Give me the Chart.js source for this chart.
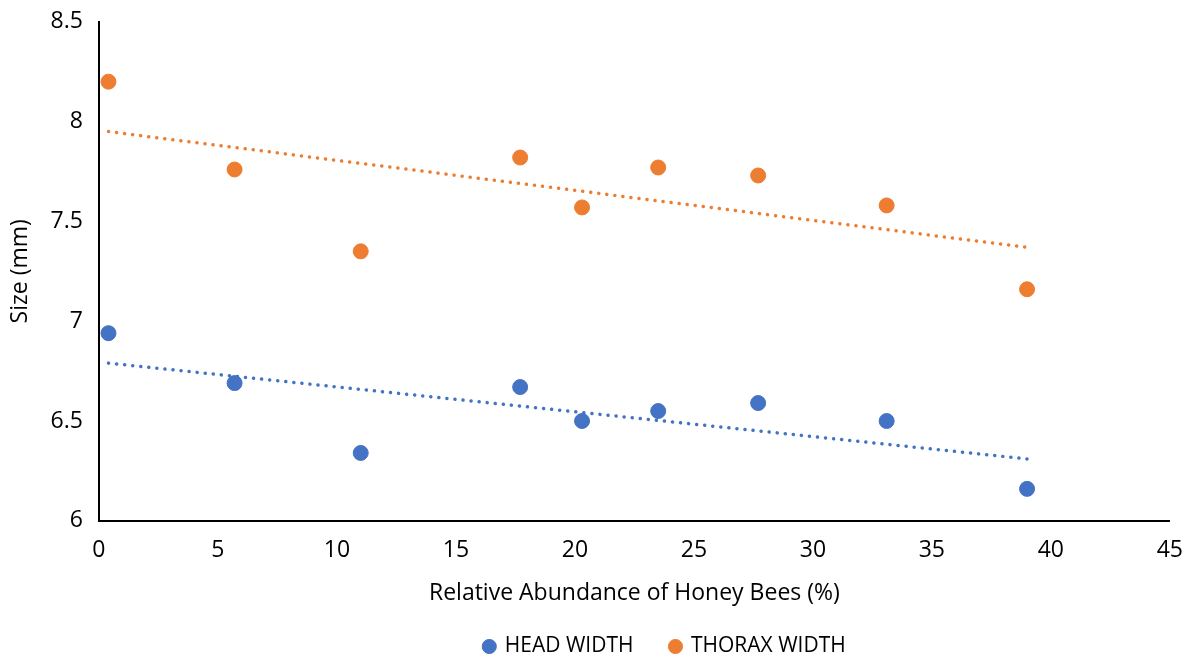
<!DOCTYPE html>
<html>
<head>
<meta charset="utf-8">
<script src="https://cdn.jsdelivr.net/npm/chart.js@4/dist/chart.umd.min.js"></script>
<style>
  html, body { margin: 0; padding: 0; background: #fff; }
  #wrap { width: 1191px; height: 660px; }
</style>
</head>
<body>
<div id="wrap"><canvas id="c" width="1191" height="660"></canvas></div>
<script>
// Relative abundance of honey bees (%)
const abundance = [0.4, 5.7, 11.0, 17.7, 20.3, 23.5, 27.7, 33.1, 39.0];
const headWidth = [6.94, 6.69, 6.34, 6.67, 6.50, 6.55, 6.59, 6.50, 6.16];
const thoraxWidth = [8.20, 7.76, 7.35, 7.82, 7.57, 7.77, 7.73, 7.58, 7.16];
// Trendline endpoints
const trendX = [0.4, 39.0];
const headTrend = [6.79, 6.31];
const thoraxTrend = [7.95, 7.37];
const xTicks = [0, 5, 10, 15, 20, 25, 30, 35, 40, 45];
const yTicks = [6, 6.5, 7, 7.5, 8, 8.5];

const BLUE = '#4472C4';
const ORANGE = '#ED7D31';
const toPts = (xs, ys) => xs.map((x, i) => ({ x: x, y: ys[i] }));

const FONT = "'Open Sans', 'DejaVu Sans', sans-serif";

// shifts the legend row (the reference's legend sits right of centre and low)
const legendShift = {
  id: 'legendShift',
  afterLayout(chart) {
    const lg = chart.legend;
    if (lg) { lg.left += 66; lg.right += 66; lg.top += 7; lg.bottom += 7; }
  }
};

new Chart(document.getElementById('c'), {
  type: 'scatter',
  data: {
    datasets: [
      { label: 'HEAD WIDTH', data: toPts(abundance, headWidth), backgroundColor: BLUE, borderColor: BLUE, pointRadius: 7.5, pointHoverRadius: 7.5, order: 1 },
      { label: 'THORAX WIDTH', data: toPts(abundance, thoraxWidth), backgroundColor: ORANGE, borderColor: ORANGE, pointRadius: 7.5, pointHoverRadius: 7.5, order: 1 },
      { label: 'trendHead', data: toPts(trendX, headTrend), showLine: true, pointRadius: 0, borderColor: BLUE, borderWidth: 3.5, borderDash: [0.1, 8], borderCapStyle: 'round', fill: false, order: 2 },
      { label: 'trendThorax', data: toPts(trendX, thoraxTrend), showLine: true, pointRadius: 0, borderColor: ORANGE, borderWidth: 3.5, borderDash: [0.1, 8], borderCapStyle: 'round', fill: false, order: 2 }
    ]
  },
  plugins: [legendShift],
  options: {
    responsive: false,
    animation: false,
    layout: { padding: { left: 7, right: 0, top: 8, bottom: 0 } },
    plugins: {
      tooltip: { enabled: false },
      legend: {
        position: 'bottom',
        labels: {
          generateLabels: (chart) => {
            const items = Chart.defaults.plugins.legend.labels.generateLabels(chart)
              .filter(it => !it.text.startsWith('trend'));
            if (items.length) items[0].text = items[0].text + '\u2003\u2002\u2006';
            return items;
          },
          usePointStyle: true,
          pointStyle: 'circle',
          boxWidth: 10,
          boxHeight: 10,
          padding: 2,
          color: '#000',
          font: { family: FONT, size: 21 }
        }
      }
    },
    scales: {
      x: {
        type: 'linear',
        min: 0, max: 45,
        afterBuildTicks: (axis) => { axis.ticks = xTicks.map(v => ({ value: v })); },
        grid: { display: false },
        border: { display: true, color: '#000', width: 2 },
        ticks: { color: '#000', font: { family: FONT, size: 23 }, padding: 8 },
        title: { display: true, text: 'Relative Abundance of Honey Bees (%)', color: '#000', font: { family: FONT, size: 23 }, padding: { top: 7, bottom: 20 } }
      },
      y: {
        type: 'linear',
        min: 6, max: 8.5,
        afterBuildTicks: (axis) => { axis.ticks = yTicks.map(v => ({ value: v })); },
        grid: { display: false },
        border: { display: true, color: '#000', width: 2 },
        ticks: { color: '#000', font: { family: FONT, size: 23 }, padding: 8, callback: (v) => String(v) },
        title: { display: true, text: 'Size (mm)', color: '#000', font: { family: FONT, size: 23 }, padding: { top: 0, bottom: 8 } }
      }
    }
  }
});
</script>
</body>
</html>
